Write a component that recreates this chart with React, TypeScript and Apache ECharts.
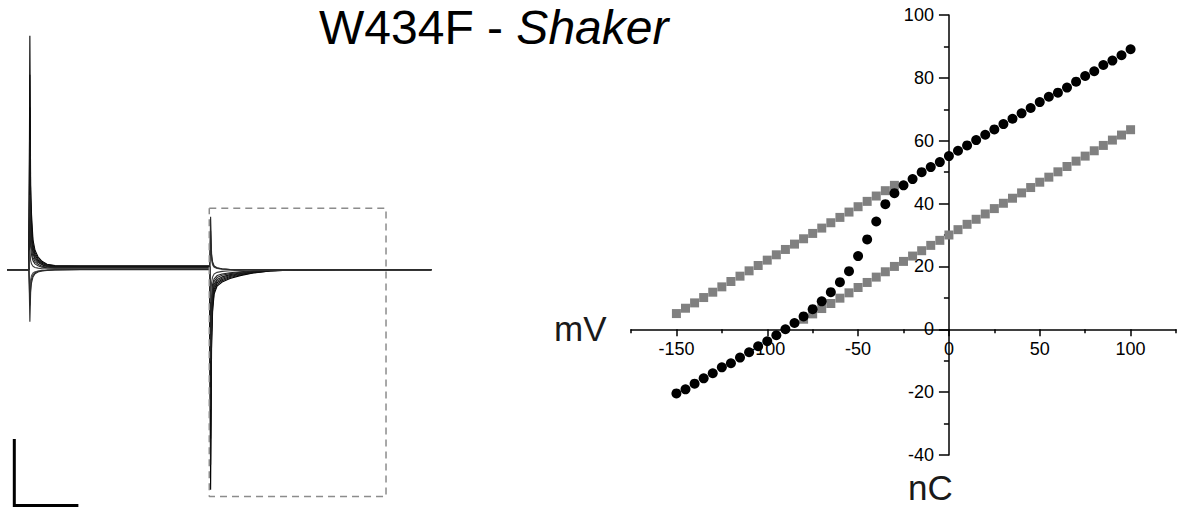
import React, { useEffect, useRef } from "react";
import * as echarts from "echarts";

// ---------- Left panel: gating current family ----------
const timeMs = [0, 3.45, 3.6, 3.72, 3.86, 4.09, 4.41, 4.88, 5.5, 6.3, 7.55, 11.5, 17.8, 24.1, 31.9, 32.05, 32.2, 32.36, 32.6, 33.07, 33.86, 35.1, 36.7, 38.75, 41.4, 45.35, 52.4, 66.8];
const traceA = [0, 0, 7.2, 2.6, 1.7, 0.92, 0.6, 0.4, 0.26, 0.17, 0.13, 0.12, 0.12, 0.12, 0.12, -6.77, -2.4, -1.3, -0.75, -0.5, -0.38, -0.27, -0.18, -0.1, -0.04, -0.01, 0, 0];
const traceG = [0, 0, 6.0, 2.2, 1.45, 0.8, 0.52, 0.35, 0.23, 0.15, 0.12, 0.11, 0.11, 0.11, 0.11, -6.0, -2.1, -1.15, -0.68, -0.45, -0.34, -0.24, -0.16, -0.09, -0.035, -0.01, 0, 0];
const traceB = [0, 0, 5.0, 1.9, 1.25, 0.7, 0.45, 0.3, 0.2, 0.13, 0.1, 0.1, 0.1, 0.1, 0.1, -5.2, -1.9, -1.0, -0.6, -0.4, -0.3, -0.21, -0.14, -0.08, -0.03, -0.01, 0, 0];
const traceH = [0, 0, 4.0, 1.6, 1.05, 0.6, 0.38, 0.26, 0.17, 0.11, 0.09, 0.09, 0.09, 0.09, 0.09, -4.3, -1.65, -0.88, -0.52, -0.35, -0.26, -0.18, -0.12, -0.065, -0.025, -0.005, 0, 0];
const traceC = [0, 0, 3.2, 1.3, 0.85, 0.5, 0.32, 0.22, 0.15, 0.1, 0.08, 0.08, 0.08, 0.08, 0.08, -3.6, -1.4, -0.75, -0.45, -0.3, -0.22, -0.15, -0.1, -0.05, -0.02, 0, 0, 0];
const traceI = [0, 0, 2.3, 1.0, 0.65, 0.38, 0.25, 0.17, 0.11, 0.08, 0.065, 0.065, 0.065, 0.065, 0.065, -2.8, -1.1, -0.6, -0.36, -0.24, -0.17, -0.12, -0.08, -0.04, -0.015, 0, 0, 0];
const traceD = [0, 0, 1.6, 0.7, 0.45, 0.28, 0.18, 0.12, 0.08, 0.06, 0.05, 0.05, 0.05, 0.05, 0.05, -2.0, -0.8, -0.45, -0.28, -0.18, -0.13, -0.09, -0.06, -0.03, -0.01, 0, 0, 0];
const traceJ = [0, 0, 0.6, 0.28, 0.18, 0.11, 0.07, 0.05, 0.03, 0.03, 0.03, 0.035, 0.035, 0.035, 0.035, -1.0, -0.4, -0.22, -0.13, -0.08, -0.05, -0.03, -0.02, -0.01, 0, 0, 0, 0];
const traceE = [0, 0, -0.7, -0.3, -0.18, -0.1, -0.06, -0.04, -0.02, -0.01, 0.01, 0.02, 0.02, 0.02, 0.02, 0.8, 0.3, 0.15, 0.08, 0.04, 0.02, 0.01, 0, 0, 0, 0, 0, 0];
const traceK = [0, 0, -1.1, -0.5, -0.28, -0.16, -0.09, -0.05, -0.03, -0.015, -0.005, 0.01, 0.01, 0.01, 0.01, 1.2, 0.4, 0.2, 0.1, 0.05, 0.025, 0.01, 0, 0, 0, 0, 0, 0];
const traceF = [0, 0, -1.6, -0.7, -0.4, -0.22, -0.12, -0.07, -0.04, -0.02, -0.01, 0, 0, 0, 0, 1.63, 0.5, 0.25, 0.12, 0.06, 0.03, 0.01, 0, 0, 0, 0, 0, 0];
const traces = [traceA, traceG, traceB, traceH, traceC, traceI, traceD, traceJ, traceE, traceK, traceF];
const traceColors = ["#000000", "#111111", "#0a0a0a", "#1a1a1a", "#151515", "#262626", "#202020", "#404040", "#505050", "#333333", "#2a2a2a"];

// scale bar (10 ms, 2 units) and dashed selection box, in data units
const scaleBarT = [11, 1.15, 1.15];
const scaleBarI = [-7.25, -7.25, -5.25];
const boxT = [31.84, 59.66, 59.66, 31.84, 31.84];
const boxI = [1.89, 1.89, -6.98, -6.98, 1.89];

// ---------- Right panel: Q-V ----------
const qBlack = [-150, -145, -140, -135, -130, -125, -120, -115, -110, -105, -100, -95, -90, -85, -80, -75, -70, -65, -60, -55, -50, -45, -40, -35, -30, -25, -20, -15, -10, -5, 0, 5, 10, 15, 20, 25, 30, 35, 40, 45, 50, 55, 60, 65, 70, 75, 80, 85, 90, 95, 100];
const vBlack = [-20.4, -19.1, -17.3, -15.6, -14.0, -12.1, -10.8, -9.0, -7.3, -5.4, -3.8, -1.9, 0.0, 2.0, 4.1, 6.4, 8.9, 11.8, 15.0, 18.5, 23.3, 28.6, 34.3, 39.8, 43.3, 45.8, 47.8, 50.0, 51.6, 53.2, 55.1, 56.8, 58.5, 60.2, 61.9, 63.6, 65.3, 67.0, 68.7, 70.4, 72.3, 74.0, 75.3, 76.9, 78.8, 80.6, 82.1, 84.1, 85.5, 87.2, 89.1];
const qGreyUpper = [-150, -145, -140, -135, -130, -125, -120, -115, -110, -105, -100, -95, -90, -85, -80, -75, -70, -65, -60, -55, -50, -45, -40, -35, -30];
const vGreyUpper = [5.0, 6.7, 8.4, 10.1, 11.8, 13.5, 15.2, 16.9, 18.6, 20.3, 22.0, 23.7, 25.4, 27.1, 28.8, 30.5, 32.2, 33.9, 35.6, 37.3, 39.0, 40.7, 42.4, 44.1, 45.8];
const qGreyLower = [-80, -75, -70, -65, -60, -55, -50, -45, -40, -35, -30, -25, -20, -15, -10, -5, 0, 5, 10, 15, 20, 25, 30, 35, 40, 45, 50, 55, 60, 65, 70, 75, 80, 85, 90, 95, 100];
const vGreyLower = [3.2, 4.9, 6.6, 8.2, 9.9, 11.6, 13.3, 14.9, 16.6, 18.3, 20.0, 21.6, 23.3, 25.0, 26.7, 28.3, 30.0, 31.7, 33.4, 35.0, 36.7, 38.4, 40.1, 41.7, 43.4, 45.1, 46.8, 48.4, 50.1, 51.8, 53.5, 55.1, 56.8, 58.5, 60.2, 61.8, 63.5];

const xMinorTicks = [-175, -125, -75, -25, 25, 75, 125];
const xMajorTicks = [-150, -100, -50, 0, 50, 100];

const FONT = '"Liberation Sans", Arial, sans-serif';
const zip = (a: number[], b: number[]) => a.map((v, i) => [v, b[i]]);

// right grid geometry
const G2 = { left: 631, top: 15, width: 545, height: 440 };
const X_MIN = -175, X_MAX = 125, Y_MIN = -40, Y_MAX = 100;

export default function App() {
  const ref = useRef<HTMLDivElement>(null);
  useEffect(() => {
    if (!ref.current) return;
    const chart = echarts.init(ref.current, null, { renderer: "svg" });
    const axisLineStyle = { color: "#000", width: 1.5 };
    // place axes through the origin (crossing axes)
    const xOffset = -(G2.height * (0 - Y_MIN)) / (Y_MAX - Y_MIN);
    const yOffset = -(G2.width * (0 - X_MIN)) / (X_MAX - X_MIN);
    const option: any = {
      animation: false,
      backgroundColor: "#fff",
      grid: [
        { left: 7, top: 0, width: 432, height: 507, containLabel: false, outerBoundsMode: "none" },
        { ...G2, containLabel: false, outerBoundsMode: "none" },
      ],
      xAxis: [
        { gridIndex: 0, type: "value", min: 0, max: 68, show: false },
        {
          gridIndex: 1, type: "value", min: X_MIN, max: X_MAX, interval: 25,
          position: "bottom", offset: xOffset,
          axisLine: { show: true, onZero: false, lineStyle: axisLineStyle },
          axisTick: { show: true, length: 4, customValues: xMinorTicks, lineStyle: axisLineStyle },
          axisLabel: { show: false },
          splitLine: { show: false },
        },
        {
          gridIndex: 1, type: "value", min: X_MIN, max: X_MAX, interval: 25,
          position: "bottom", offset: xOffset,
          axisLine: { show: false, onZero: false },
          axisTick: { show: true, length: 7, customValues: xMajorTicks, lineStyle: axisLineStyle },
          axisLabel: { show: true, customValues: xMajorTicks, fontSize: 18, color: "#000", margin: 11, fontFamily: FONT },
          splitLine: { show: false },
        },
      ],
      yAxis: [
        { gridIndex: 0, type: "value", min: -7.3, max: 8.3, show: false },
        {
          gridIndex: 1, type: "value", min: Y_MIN, max: Y_MAX, interval: 20,
          position: "left", offset: yOffset,
          axisLine: { show: true, onZero: false, lineStyle: axisLineStyle },
          axisTick: { show: true, length: 10, lineStyle: axisLineStyle },
          minorTick: { show: true, splitNumber: 2, length: 5, lineStyle: axisLineStyle },
          axisLabel: { show: true, fontSize: 18, color: "#000", margin: 15, fontFamily: FONT },
          splitLine: { show: false },
        },
      ],
      series: [
        ...traces.map((tr, i) => ({
          type: "line", xAxisIndex: 0, yAxisIndex: 0, silent: true,
          showSymbol: false, symbol: "none",
          data: zip(timeMs, tr),
          lineStyle: { color: traceColors[i], width: 1.1 },
          z: 2,
        })),
        {
          type: "line", xAxisIndex: 0, yAxisIndex: 0, silent: true, symbol: "none",
          data: zip(scaleBarT, scaleBarI),
          lineStyle: { color: "#000", width: 3, cap: "square", join: "miter" },
        },
        {
          type: "line", xAxisIndex: 0, yAxisIndex: 0, silent: true, symbol: "none",
          data: zip(boxT, boxI),
          lineStyle: { color: "#8c8c8c", width: 1.5, type: [7, 5] },
        },
        {
          type: "scatter", xAxisIndex: 1, yAxisIndex: 1, symbol: "rect", symbolSize: 9,
          data: zip(qGreyUpper, vGreyUpper), itemStyle: { color: "#808080", opacity: 1 }, z: 3,
        },
        {
          type: "scatter", xAxisIndex: 1, yAxisIndex: 1, symbol: "rect", symbolSize: 9,
          data: zip(qGreyLower, vGreyLower), itemStyle: { color: "#808080", opacity: 1 }, z: 3,
        },
        {
          type: "scatter", xAxisIndex: 1, yAxisIndex: 1, symbol: "circle", symbolSize: 10,
          data: zip(qBlack, vBlack), itemStyle: { color: "#000", opacity: 1 }, z: 4,
        },
      ],
      graphic: [
        {
          type: "text", x: 319, y: 1, silent: true,
          style: {
            text: "{a|W434F - }{b|Shaker}",
            verticalAlign: "top",
            rich: {
              a: { fontSize: 48, lineHeight: 52, fontFamily: FONT, color: "#1a1a1a" },
              b: { fontSize: 48, lineHeight: 52, fontFamily: FONT, fontStyle: "italic", color: "#1a1a1a" },
            },
          },
        },
        {
          type: "text", x: 554, y: 328, silent: true,
          style: { text: "mV", font: `35px ${FONT}`, fill: "#1a1a1a", verticalAlign: "middle" },
        },
        {
          type: "text", x: 908, y: 487, silent: true,
          style: { text: "nC", font: `35px ${FONT}`, fill: "#1a1a1a", verticalAlign: "middle" },
        },
      ],
    };
    chart.setOption(option);
    return () => chart.dispose();
  }, []);
  return (
    <div
      ref={ref}
      style={{ position: "absolute", left: 0, top: 0, width: 1181, height: 507, background: "#fff" }}
    />
  );
}
